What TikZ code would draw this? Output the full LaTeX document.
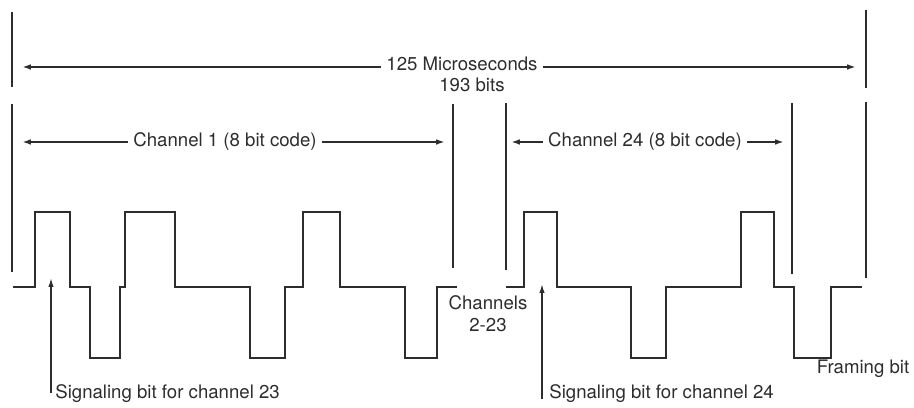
\documentclass[tikz,border=0pt]{standalone}
\usepackage{fontspec}
\setmainfont{TeX Gyre Heros}
\usetikzlibrary{arrows.meta}
\definecolor{ink}{RGB}{45,45,45}
\begin{document}
\begin{tikzpicture}[x=0.02cm, y=-0.02cm,
    bar/.style={ink, line width=1.4pt},
    wave/.style={ink, line width=1.3pt, line join=miter},
    dim/.style={ink, line width=1.1pt, -{Latex[length=5pt,width=3.2pt]}},
    ptr/.style={ink, line width=0.8pt, -{Latex[length=5pt,width=3pt]}},
    lbl/.style={text=ink, inner sep=0pt, font=\fontsize{10.6}{12.6}\selectfont},
    dimlbl/.style={lbl, inner xsep=3pt}]
    \useasboundingbox (0,0) rectangle (914,408);
    % Frame and channel bars
    \draw[bar] (12,12) -- (12,87);
    \draw[bar] (866,10) -- (866,88);
    \draw[bar] (12,104) -- (12,272);
    \draw[bar] (453,104) -- (453,268);
    \draw[bar] (506,103) -- (506,270);
    \draw[bar] (792,103) -- (792,274);
    \draw[bar] (866,102) -- (866,278);
    % Pulse train, channel 1
    \draw[wave] (13,287) -- (35,287) -- (35,212) -- (70,212) -- (70,287) -- (90,287) -- (90,358)
        -- (120,358) -- (120,287) -- (125,287) -- (125,212) -- (175,212) -- (175,287) -- (250,287)
        -- (250,358) -- (285,358) -- (285,287) -- (303,287) -- (303,212) -- (340,212) -- (340,287)
        -- (405,287) -- (405,358) -- (437,358) -- (437,287) -- (457,287);
    % Pulse train, channel 24 and framing bit
    \draw[wave] (506,287) -- (524,287) -- (524,212) -- (557,212) -- (557,287) -- (631,287) -- (631,358)
        -- (666,358) -- (666,287) -- (741,287) -- (741,212) -- (774,212) -- (774,287) -- (794,287)
        -- (794,358) -- (831,358) -- (831,287) -- (862,287);
    % Frame length
    \node[dimlbl, anchor=base] (usec) at (462,71) {125 Microseconds};
    \node[lbl, anchor=base] (bits) at (472,92) {193 bits};
    \coordinate (usecL) at (22,67);
    \coordinate (usecR) at (856,67);
    \draw[dim] (usec.west |- usecL) -- (usecL);
    \draw[dim] (usec.east |- usecR) -- (usecR);
    % Channel widths
    \node[dimlbl, anchor=base] (chone) at (225,147) {Channel 1 (8 bit code)};
    \coordinate (choneL) at (22,142);
    \coordinate (choneR) at (445,142);
    \draw[dim] (chone.west |- choneL) -- (choneL);
    \draw[dim] (chone.east |- choneR) -- (choneR);
    \node[dimlbl, anchor=base] (chlast) at (645,147) {Channel 24 (8 bit code)};
    \coordinate (chlastL) at (511,142);
    \coordinate (chlastR) at (784,142);
    \draw[dim] (chlast.west |- chlastL) -- (chlastL);
    \draw[dim] (chlast.east |- chlastR) -- (chlastR);
    % Bit labels
    \node[lbl, align=center, anchor=base] (chmid) at (488,332) {Channels\\2-23};
    \node[lbl, anchor=base] (frame) at (863,374) {Framing bit};
    \node[lbl, anchor=base west] (sigA) at (55,399) {Signaling bit for channel 23};
    \node[lbl, anchor=base west] (sigB) at (549,399) {Signaling bit for channel 24};
    \coordinate (sigAfoot) at (51,393);
    \coordinate (sigAtip) at (51,278);
    \coordinate (sigBfoot) at (542,399);
    \coordinate (sigBtip) at (542,284);
    \draw[ptr] (sigAfoot) -- (sigAtip);
    \draw[ptr] (sigBfoot) -- (sigBtip);
\end{tikzpicture}
\end{document}
